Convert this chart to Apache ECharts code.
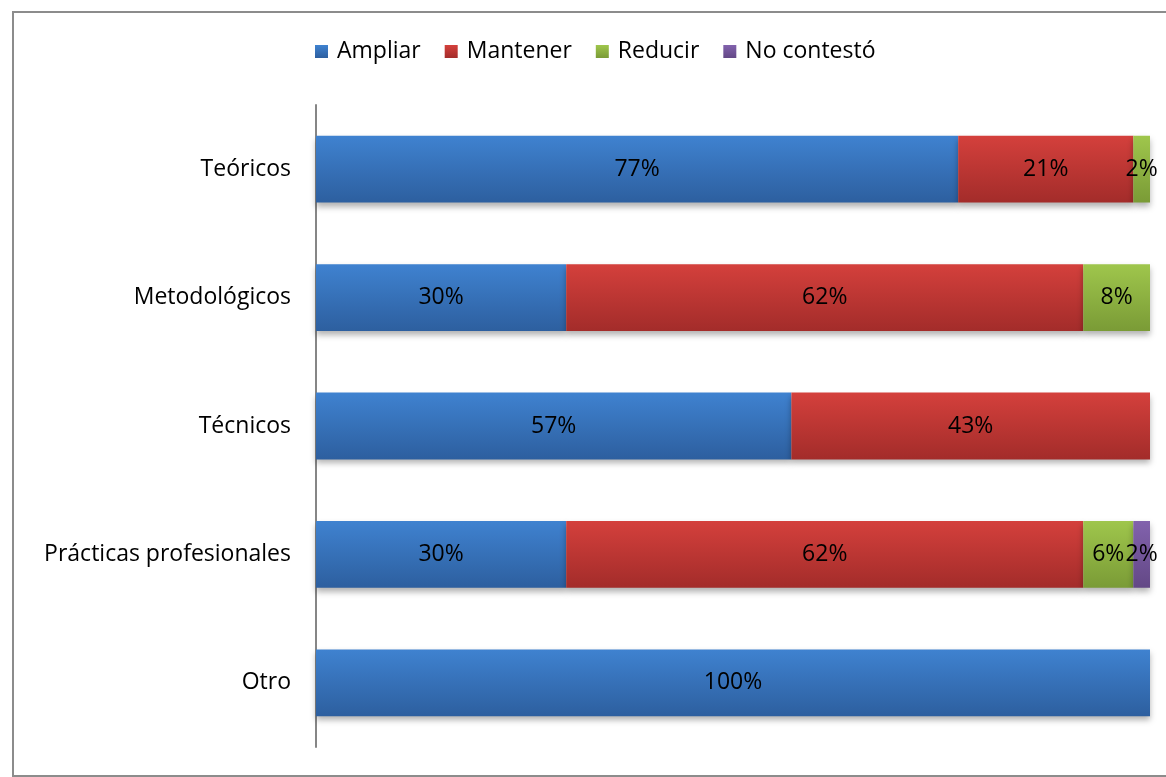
<!DOCTYPE html>
<html>
<head>
<meta charset="utf-8">
<script src="https://cdn.jsdelivr.net/npm/echarts@6/dist/echarts.min.js"></script>
<style>
  html, body { margin: 0; padding: 0; background: #fff; }
  #chart { width: 1166px; height: 777px; }
</style>
</head>
<body>
<div id="chart"></div>
<script>
// Categories, top to bottom
const categories = ['Teóricos', 'Metodológicos', 'Técnicos', 'Prácticas profesionales', 'Otro'];

// Percentage shares per answer
const ampliar    = [77, 30, 57, 30, 100];
const mantener   = [21, 62, 43, 62, 0];
const reducir    = [2, 8, 0, 6, 0];
const noContesto = [0, 0, 0, 2, 0];

const seriesNames = ['Ampliar', 'Mantener', 'Reducir', 'No contestó'];
const seriesData = [ampliar, mantener, reducir, noContesto];

// top / bottom gradient colours for each series
const palette = [
  ['#3f82d0', '#2d5f9f'],
  ['#d4403c', '#a32c2a'],
  ['#9fc64c', '#7a9b36'],
  ['#8262ad', '#634886']
];

const FONT = '"Open Sans", Lato, sans-serif';
const FONT_SIZE = 23;

const chart = echarts.init(document.getElementById('chart'));

const series = seriesNames.map((name, i) => ({
  name: name,
  type: 'bar',
  stack: 'total',
  barWidth: '52%',
  data: seriesData[i],
  itemStyle: {
    color: new echarts.graphic.LinearGradient(0, 0, 0, 1, [
      { offset: 0, color: palette[i][0] },
      { offset: 1, color: palette[i][1] }
    ]),
    shadowColor: 'rgba(0,0,0,0.3)',
    shadowBlur: 6,
    shadowOffsetY: 4
  },
  label: {
    show: true,
    position: 'inside',
    color: '#000',
    fontFamily: FONT,
    fontSize: FONT_SIZE,
    formatter: p => (p.value > 0 ? p.value + '%' : '')
  }
}));

chart.setOption({
  animation: false,
  color: palette.map(p => p[0]),
  graphic: [{
    type: 'rect',
    shape: { x: 13, y: 12, width: 1170, height: 764 },
    style: { fill: 'none', stroke: '#8c8c8c', lineWidth: 2 },
    silent: true,
    z: -1
  }],
  legend: {
    top: 35,
    left: 310,
    itemWidth: 13,
    itemHeight: 13,
    itemGap: 24,
    icon: 'rect',
    textStyle: { fontFamily: FONT, fontSize: FONT_SIZE, color: '#000', padding: [0, 0, 0, 4] },
    data: seriesNames
  },
  grid: { left: 316, right: 16, top: 105, bottom: 30, containLabel: false },
  xAxis: {
    type: 'value',
    min: 0,
    max: 100,
    show: false
  },
  yAxis: {
    type: 'category',
    inverse: true,
    data: categories,
    axisLine: { show: true, lineStyle: { color: '#868686', width: 2 } },
    axisTick: { show: false },
    axisLabel: { fontFamily: FONT, fontSize: FONT_SIZE, color: '#000', margin: 25 }
  },
  series: series
});
</script>
</body>
</html>
